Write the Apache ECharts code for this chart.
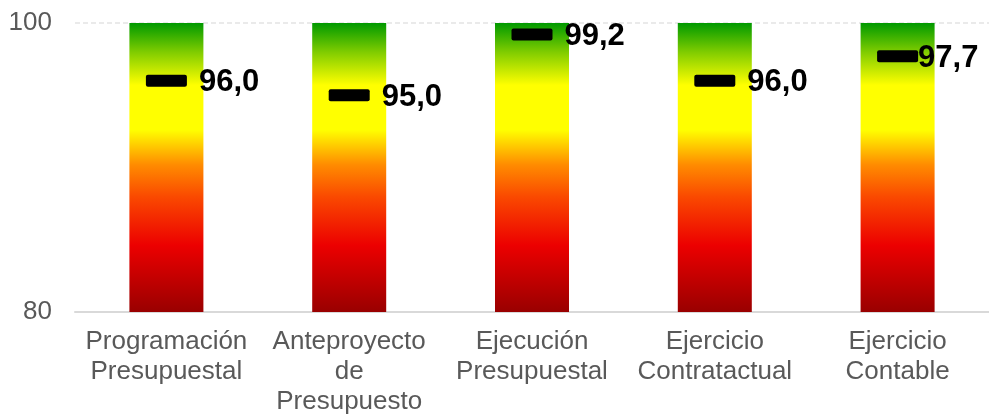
<!DOCTYPE html>
<html>
<head>
<meta charset="utf-8">
<script src="https://cdn.jsdelivr.net/npm/echarts@6/dist/echarts.min.js"></script>
<style>
  html, body { margin: 0; padding: 0; background: #ffffff; }
  #chart { width: 989px; height: 418px; }
</style>
</head>
<body>
<div id="chart"></div>
<script>
// Areas evaluated
const categories = [
  'Programación\nPresupuestal',
  'Anteproyecto\nde\nPresupuesto',
  'Ejecución\nPresupuestal',
  'Ejercicio\nContratactual',
  'Ejercicio\nContable'
];
// Scale band drawn behind each result (low and high ends)
const bandLow = [80, 80, 80, 80, 80];
const bandHigh = [100, 100, 100, 100, 100];
// Scores obtained
const scores = [96.0, 95.0, 99.2, 96.0, 97.7];
// Value axis ticks
const axisMin = 80;
const axisMax = 100;
const axisStep = 20;

const FONT = 'Arial, "Liberation Sans", sans-serif';

const bandGradient = {
  type: 'linear', x: 0, y: 0, x2: 0, y2: 1,
  colorStops: [
    { offset: 0.00, color: '#009900' },
    { offset: 0.10, color: '#7fcc00' },
    { offset: 0.215, color: '#ffff00' },
    { offset: 0.37, color: '#ffff00' },
    { offset: 0.49, color: '#ff8c00' },
    { offset: 0.60, color: '#fa4a00' },
    { offset: 0.77, color: '#ec0000' },
    { offset: 1.00, color: '#990000' }
  ]
};

// Short bar marker with slightly rounded corners
const markerPath = 'path://M2,0 H39 Q41,0 41,2 V10 Q41,12 39,12 H2 Q0,12 0,10 V2 Q0,0 2,0 Z';

const chart = echarts.init(document.getElementById('chart'), null, { renderer: 'canvas' });

chart.setOption({
  animation: false,
  backgroundColor: '#ffffff',
  grid: { left: 75, top: 23, width: 915, bottom: 106, containLabel: false },
  xAxis: {
    type: 'category',
    data: categories,
    axisLine: { show: true, lineStyle: { color: '#d9d9d9', width: 2 } },
    axisTick: { show: false },
    axisLabel: {
      interval: 0,
      margin: 15,
      color: '#595959',
      fontFamily: FONT,
      fontSize: 26,
      lineHeight: 30
    }
  },
  yAxis: {
    type: 'value',
    min: axisMin,
    max: axisMax,
    interval: axisStep,
    axisLine: { show: false },
    axisTick: { show: false },
    splitLine: { show: true, lineStyle: { color: '#e3e3e3', width: 1.5, type: [5, 3] } },
    axisLabel: {
      margin: 23,
      color: '#595959',
      fontFamily: FONT,
      fontSize: 26
    }
  },
  series: [
    {
      name: 'base',
      type: 'bar',
      stack: 'band',
      barWidth: 74,
      silent: true,
      itemStyle: { color: 'rgba(0,0,0,0)' },
      data: bandLow
    },
    {
      name: 'band',
      type: 'bar',
      stack: 'band',
      barWidth: 74,
      silent: true,
      itemStyle: { color: bandGradient },
      data: bandHigh.map((h, i) => h - bandLow[i])
    },
    {
      name: 'score',
      type: 'scatter',
      symbol: markerPath,
      symbolSize: [41, 12],
      symbolKeepAspect: false,
      itemStyle: { color: '#000000', opacity: 1 },
      z: 5,
      label: {
        show: true,
        position: 'right',
        distance: 12,
        offset: [0, 2],
        color: '#000000',
        opacity: 1,
        fontFamily: FONT,
        fontWeight: 'bold',
        fontSize: 31,
        formatter: p => p.value.toFixed(1).replace('.', ',')
      },
      data: scores.map((v, i) => (i === scores.length - 1
        ? { value: v, label: { distance: 0 } }
        : v))
    }
  ]
});
</script>
</body>
</html>
